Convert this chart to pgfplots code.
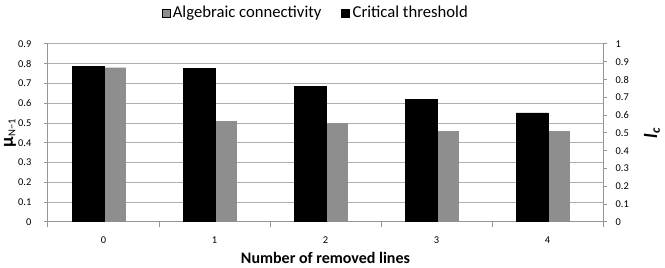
\documentclass[border=0pt]{standalone}
\usepackage{pgfplots}
\pgfplotsset{compat=1.18}
\usepackage{fontspec}
\setmainfont{Carlito}
\definecolor{barGray}{RGB}{142,142,142}
\definecolor{gridGray}{RGB}{175,175,175}
\definecolor{axGray}{RGB}{150,150,150}

\begin{document}
\begin{tikzpicture}
\pgfplotsset{
 common/.style={
  scale only axis, width=416.25pt, height=133.5pt,
  xmin=-0.5, xmax=4.5,
  ybar,
  tick align=outside,
  /pgf/number format/.cd, fixed, precision=1, assume math mode=true, /pgfplots/.cd,
  ticklabel style={font=\fontsize{7.8}{9}\selectfont},
  axis line style={axGray, line width=0.75pt},
  every tick/.style={axGray, line width=0.75pt},
  major tick length=3pt,
  minor tick length=4pt,
 },
}
\begin{axis}[common, name=ax,
 ymin=0, ymax=0.9, ytick={0,0.1,0.2,0.3,0.4,0.5,0.6,0.7,0.8,0.9},
 axis x line*=bottom, axis y line*=left,
 ymajorgrids, grid style={gridGray, line width=0.75pt},
 xtick={0,1,2,3,4}, xticklabels={0,1,2,3,4},
 minor xtick={-0.5,0.5,1.5,2.5,3.5,4.5},
 major x tick style={draw=none},
 xticklabel style={yshift=-4.5pt},
 yticklabel style={xshift=-6pt},
 xlabel={\textbf{Number of removed lines}},
 xlabel style={font=\fontsize{12}{14}\selectfont, at={(axis description cs:0.5,-0.2)}, anchor=center},
 ylabel={{\fontsize{14}{16}\selectfont\bfseries μ}\textsubscript{N−1}},
 ylabel style={font=\fontsize{12}{14}\selectfont, at={(axis description cs:-0.0685,0.5)}, anchor=center},
]
\addplot[fill=barGray, draw=none, bar width=16.5pt, bar shift=8.6pt]
 coordinates {(0,0.78) (1,0.51) (2,0.50) (3,0.46) (4,0.46)};
\end{axis}
\begin{axis}[common,
 ymin=0, ymax=1, ytick={0,0.1,0.2,0.3,0.4,0.5,0.6,0.7,0.8,0.9,1},
 axis y line*=right, axis x line=none,
 xtick=\empty,
 yticklabel style={xshift=3pt},
 ylabel={\textbf{\textit{l}}\textsubscript{\textbf{\textit{c}}}},
 ylabel style={font=\fontsize{14}{16}\selectfont, at={(axis description cs:1.0883,0.5)}, anchor=center},
 legend style={draw=none, fill=none, legend columns=-1,
   font=\fontsize{12.5}{15}\selectfont,
   at={(axis description cs:0.483,1.174)}, anchor=center},
]
\addlegendimage{legend image code/.code={\path[fill=barGray] (0pt,-3pt) rectangle (6pt,3pt);}}
\addlegendentry{Algebraic connectivity\rule{13pt}{0pt}}
\addplot[fill=black, draw=black, bar width=24pt, bar shift=-11.6pt,
 legend image code/.code={\path[fill=black] (0pt,-3pt) rectangle (6pt,3pt);}]
 coordinates {(0,0.875) (1,0.862) (2,0.763) (3,0.687) (4,0.613)};
\addlegendentry{Critical threshold}
\end{axis}
\pgfresetboundingbox
\path ([shift={(-36pt,-34.125pt)}]ax.south west) rectangle ([shift={(46.5pt,33pt)}]ax.north east);
\end{tikzpicture}
\end{document}
